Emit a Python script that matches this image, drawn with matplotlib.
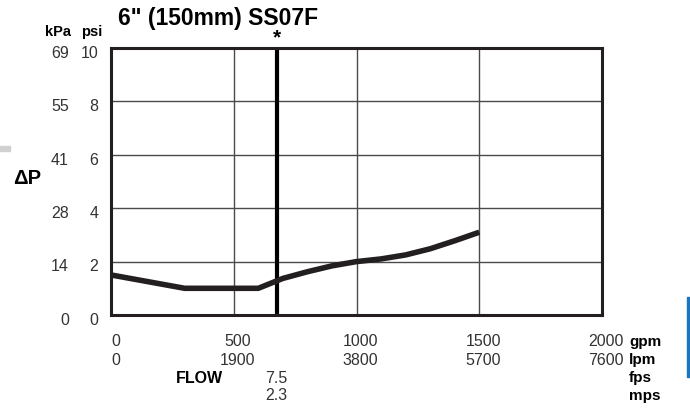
import matplotlib
matplotlib.use("Agg")
import matplotlib.pyplot as plt
from matplotlib.patches import Rectangle

plt.rcParams['font.family'] = ['Liberation Sans', 'DejaVu Sans']

# ------------------ data ------------------
flow_gpm = [0, 300, 600, 700, 800, 900, 1000, 1100, 1200, 1300, 1400, 1500]
dp_psi = [1.5, 1.0, 1.0, 1.37, 1.62, 1.84, 2.0, 2.1, 2.25, 2.48, 2.78, 3.1]

gpm_ticks = [0, 500, 1000, 1500, 2000]
lpm_labels = ["0", "1900", "3800", "5700", "7600"]
psi_ticks = [0, 2, 4, 6, 8, 10]
kpa_labels = ["0", "14", "28", "41", "55", "69"]
marker_gpm = 675          # 7.5 fps line
marker_fps = "7.5"
marker_mps = "2.3"
unit_names = ["gpm", "lpm", "fps", "mps"]
title = "6\" (150mm) SS07F"

# ------------------ figure ------------------
fig = plt.figure(figsize=(6.9, 4.11), dpi=100)
ax = fig.add_axes([111 / 690, 1 - 315 / 411, 491 / 690, 267 / 411])
ax.set_xlim(0, 2000)
ax.set_ylim(0, 10)

grid_c = "#4a4a4a"
for g in gpm_ticks[1:-1]:
    ax.axvline(g, color=grid_c, lw=1.0, zorder=1)
for p in psi_ticks[1:-1]:
    ax.axhline(p, color=grid_c, lw=1.0, zorder=1)

ax.axvline(marker_gpm, color="black", lw=3.0, zorder=2)
ax.plot(flow_gpm, dp_psi, color="#231f20", lw=4.0, solid_capstyle="butt",
        solid_joinstyle="round", zorder=3)

for s in ax.spines.values():
    s.set_linewidth(2.2)
    s.set_color("#231f20")
ax.set_xticks([])
ax.set_yticks([])

fs = 11.5
txt_c = "#333333"
# left axis labels
for p, k in zip(psi_ticks, kpa_labels):
    ax.text(-52, p - 0.2, str(p), ha="right", va="center", fontsize=fs, color=txt_c, clip_on=False)
    ax.text(-172, p - 0.2, k, ha="right", va="center", fontsize=fs, color=txt_c, clip_on=False)
ax.text(-216, 10.6, "kPa", ha="center", va="center", fontsize=10.5, fontweight="bold")
ax.text(-77, 10.6, "psi", ha="center", va="center", fontsize=10.5, fontweight="bold")
ax.text(-342, 5.1, "ΔP", ha="center", va="center", fontsize=14.5, fontweight="bold")

# title and marker
ax.text(28, 11.12, title, ha="left", va="center", fontsize=16.5, fontweight="bold")
ax.text(marker_gpm, 10.38, "*", ha="center", va="center", fontsize=15, fontweight="bold")

# bottom labels
for g, l in zip(gpm_ticks, lpm_labels):
    xg = g + 16 if g > 0 else g
    ha = "center" if g > 0 else "left"
    ax.text(xg, -1.01, str(g), ha=ha, va="center", fontsize=fs, color=txt_c)
    ax.text(xg, -1.69, l, ha=ha, va="center", fontsize=fs, color=txt_c)
ax.text(marker_gpm, -2.36, marker_fps, ha="center", va="center", fontsize=fs, color=txt_c)
ax.text(marker_gpm, -3.03, marker_mps, ha="center", va="center", fontsize=fs, color=txt_c)
ax.text(360, -2.36, "FLOW", ha="center", va="center", fontsize=11.5, fontweight="bold")
for i, u in enumerate(unit_names):
    ax.text(2110, -1.01 - 0.67 * i, u, ha="left", va="center", fontsize=11, fontweight="bold")

# page decorations
fig.patches.append(Rectangle((0, 1 - 151 / 411), 10 / 690, 5 / 411,
                             transform=fig.transFigure, color="#d0d0d0"))
fig.patches.append(Rectangle((687 / 690, 1 - 377 / 411), 3 / 690, 80 / 411,
                             transform=fig.transFigure, color="#1c75bc"))

fig.savefig("out.png", dpi=100)
